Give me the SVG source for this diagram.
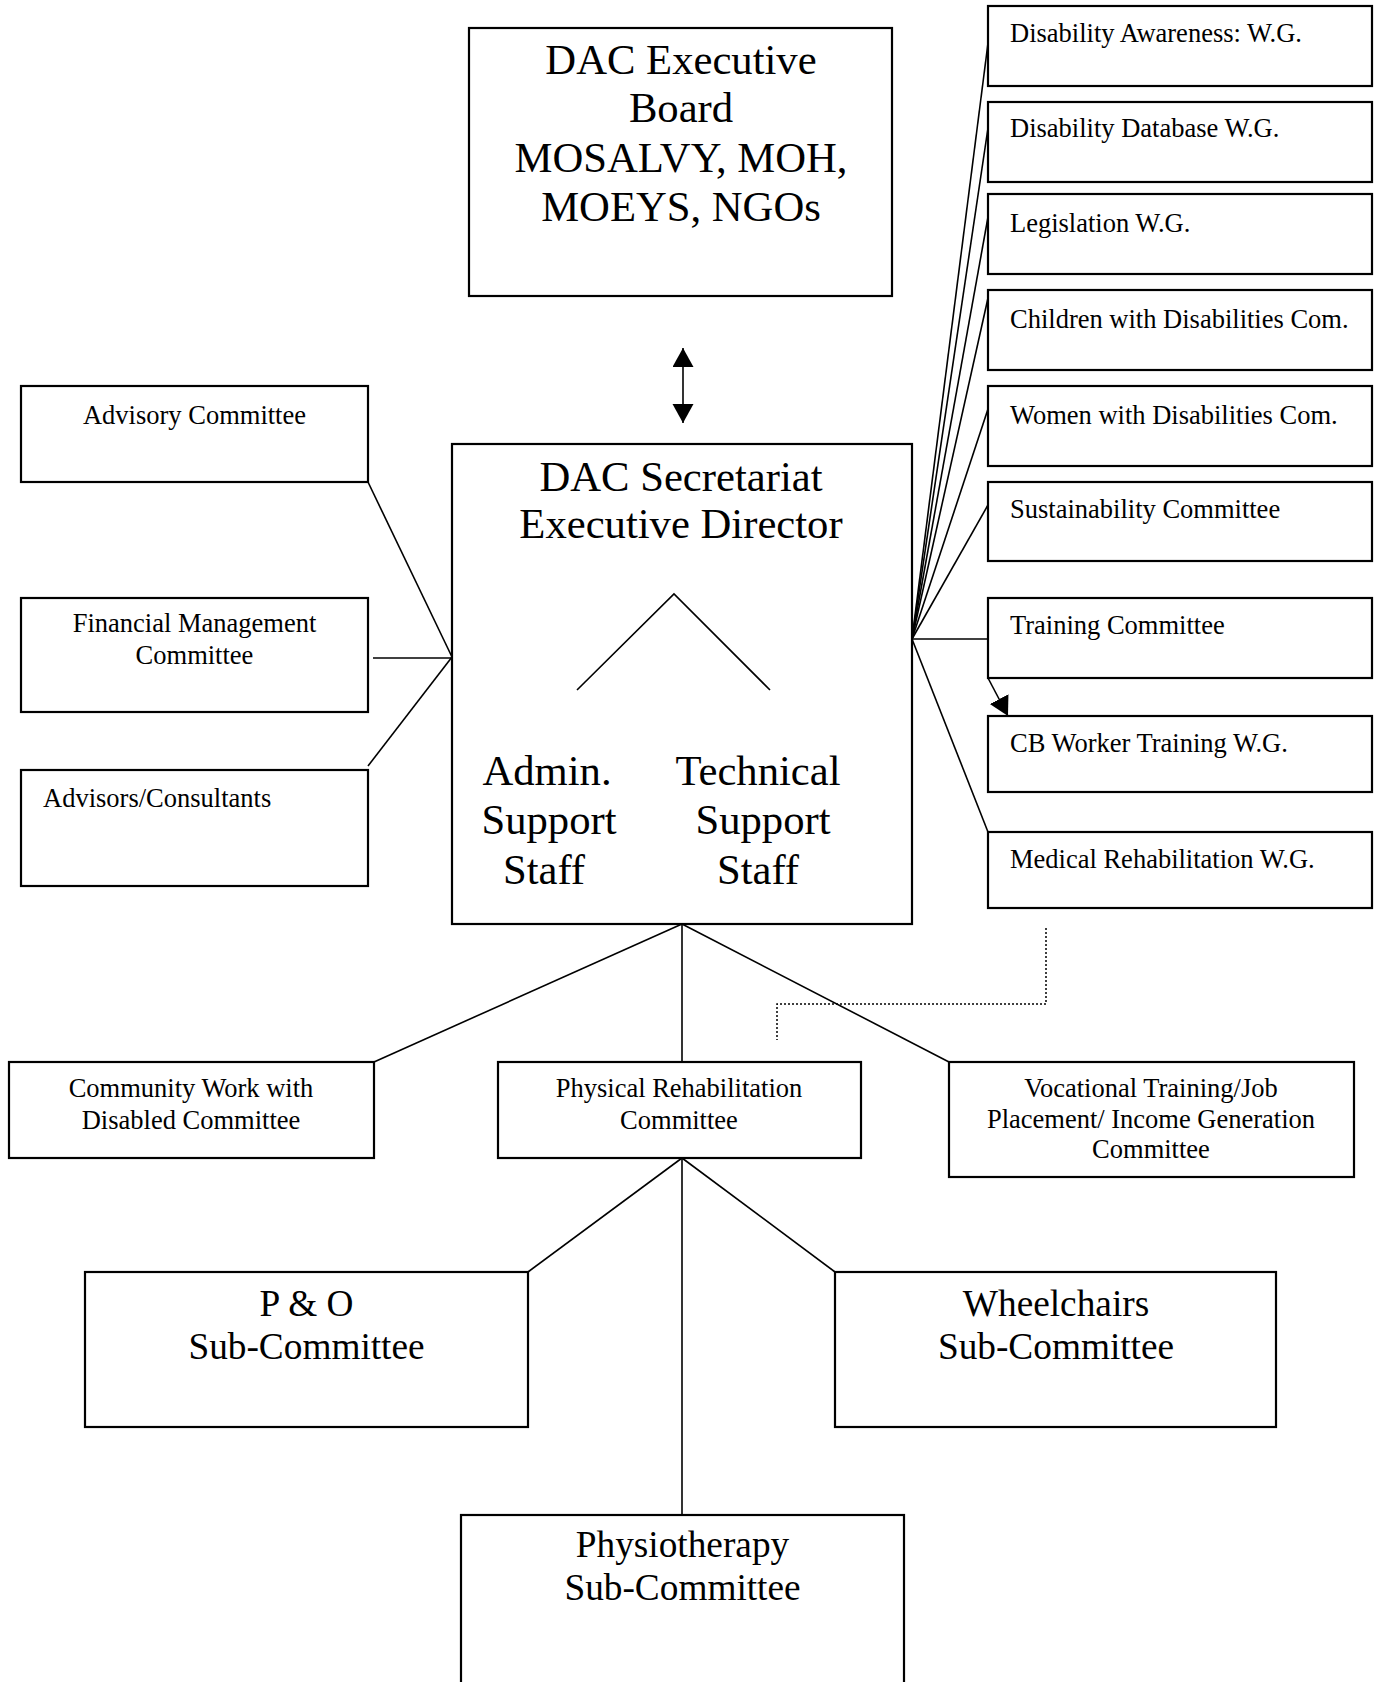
<svg xmlns="http://www.w3.org/2000/svg" width="1381" height="1682" viewBox="0 0 1381 1682">
<style>
  .box { fill: #ffffff; stroke: #000000; stroke-width: 2.2; }
  .ln { fill: none; stroke: #000000; stroke-width: 1.6; }
  .dot { fill: none; stroke: #000000; stroke-width: 1.5; stroke-dasharray: 2 2; }
  .big { font-family: "Liberation Serif", "Times New Roman", serif; font-size: 42.67px; fill: #000000; text-anchor: middle; }
  .mid { font-family: "Liberation Serif", "Times New Roman", serif; font-size: 37.3px; fill: #000000; text-anchor: middle; }
  .sm { font-family: "Liberation Serif", "Times New Roman", serif; font-size: 26.5px; fill: #000000; text-anchor: middle; }
  .sml { font-family: "Liberation Serif", "Times New Roman", serif; font-size: 26.5px; fill: #000000; text-anchor: start; }
</style>
<defs>
  <marker id="arr" markerUnits="userSpaceOnUse" markerWidth="20" markerHeight="22" refX="19" refY="10.5" orient="auto-start-reverse">
    <path d="M0,0 L19,10.5 L0,21 Z" fill="#000000"/>
  </marker>
</defs>
<rect width="1381" height="1682" fill="#ffffff"/>

<g id="connectors">
  <line class="ln" x1="683" y1="348" x2="683" y2="423" marker-start="url(#arr)" marker-end="url(#arr)"/>
  <line class="ln" x1="368" y1="482" x2="452" y2="657"/>
  <line class="ln" x1="373" y1="658" x2="452" y2="658"/>
  <line class="ln" x1="368" y1="766" x2="452" y2="657"/>
  <line class="ln" x1="912" y1="639" x2="988" y2="43"/>
  <line class="ln" x1="912" y1="639" x2="988" y2="128"/>
  <line class="ln" x1="912" y1="639" x2="988" y2="217"/>
  <line class="ln" x1="912" y1="639" x2="988" y2="298"/>
  <line class="ln" x1="912" y1="639" x2="988" y2="409"/>
  <line class="ln" x1="912" y1="639" x2="988" y2="505"/>
  <line class="ln" x1="912" y1="639" x2="988" y2="639"/>
  <line class="ln" x1="912" y1="639" x2="988" y2="832"/>
  <line class="ln" x1="988" y1="678" x2="1008" y2="716" marker-end="url(#arr)"/>
  <line class="ln" x1="682" y1="924" x2="374" y2="1062"/>
  <line class="ln" x1="682" y1="924" x2="682" y2="1062"/>
  <line class="ln" x1="682" y1="924" x2="949" y2="1062"/>
  <line class="ln" x1="682" y1="1158" x2="528" y2="1272"/>
  <line class="ln" x1="682" y1="1158" x2="682" y2="1515"/>
  <line class="ln" x1="682" y1="1158" x2="835" y2="1272"/>
  <polyline class="dot" points="1046,928 1046,1004 777,1004 777,1040"/>
</g>

<g id="exec-board">
  <rect class="box" x="469" y="28" width="423" height="268"/>
  <text class="big" x="681" y="74">DAC Executive</text>
  <text class="big" x="681" y="122">Board</text>
  <text class="big" x="681" y="172">MOSALVY, MOH,</text>
  <text class="big" x="681" y="221">MOEYS, NGOs</text>
</g>

<g id="secretariat">
  <rect class="box" x="452" y="444" width="460" height="480"/>
  <text class="big" x="681" y="491">DAC Secretariat</text>
  <text class="big" x="681" y="538">Executive Director</text>
  <polyline class="ln" points="577,690 674,594 770,690"/>
  <text class="big" x="547" y="785">Admin.</text>
  <text class="big" x="549" y="834">Support</text>
  <text class="big" x="544" y="884">Staff</text>
  <text class="big" x="758" y="785">Technical</text>
  <text class="big" x="763" y="834">Support</text>
  <text class="big" x="758" y="884">Staff</text>
</g>

<g id="advisory">
  <rect class="box" x="21" y="386" width="347" height="96"/>
  <text class="sm" x="194.5" y="424">Advisory Committee</text>
</g>
<g id="financial">
  <rect class="box" x="21" y="598" width="347" height="114"/>
  <text class="sm" x="194.5" y="632">Financial Management</text>
  <text class="sm" x="194.5" y="664">Committee</text>
</g>
<g id="advisors">
  <rect class="box" x="21" y="770" width="347" height="116"/>
  <text class="sml" x="43" y="807">Advisors/Consultants</text>
</g>

<g id="awareness">
  <rect class="box" x="988" y="6" width="384" height="80"/>
  <text class="sml" x="1010" y="42">Disability Awareness: W.G.</text>
</g>
<g id="database">
  <rect class="box" x="988" y="102" width="384" height="80"/>
  <text class="sml" x="1010" y="137">Disability Database W.G.</text>
</g>
<g id="legislation">
  <rect class="box" x="988" y="194" width="384" height="80"/>
  <text class="sml" x="1010" y="232">Legislation W.G.</text>
</g>
<g id="children">
  <rect class="box" x="988" y="290" width="384" height="80"/>
  <text class="sml" x="1010" y="328">Children with Disabilities Com.</text>
</g>
<g id="women">
  <rect class="box" x="988" y="386" width="384" height="80"/>
  <text class="sml" x="1010" y="424">Women with Disabilities Com.</text>
</g>
<g id="sustainability">
  <rect class="box" x="988" y="482" width="384" height="79"/>
  <text class="sml" x="1010" y="518">Sustainability Committee</text>
</g>
<g id="training">
  <rect class="box" x="988" y="598" width="384" height="80"/>
  <text class="sml" x="1010" y="634">Training Committee</text>
</g>
<g id="cb-worker">
  <rect class="box" x="988" y="716" width="384" height="76"/>
  <text class="sml" x="1010" y="752">CB Worker Training W.G.</text>
</g>
<g id="medical">
  <rect class="box" x="988" y="832" width="384" height="76"/>
  <text class="sml" x="1010" y="868">Medical Rehabilitation W.G.</text>
</g>

<g id="community">
  <rect class="box" x="9" y="1062" width="365" height="96"/>
  <text class="sm" x="191" y="1097">Community Work with</text>
  <text class="sm" x="191" y="1129">Disabled Committee</text>
</g>
<g id="physical">
  <rect class="box" x="498" y="1062" width="363" height="96"/>
  <text class="sm" x="679" y="1097">Physical Rehabilitation</text>
  <text class="sm" x="679" y="1129">Committee</text>
</g>
<g id="vocational">
  <rect class="box" x="949" y="1062" width="405" height="115"/>
  <text class="sm" x="1151" y="1097">Vocational Training/Job</text>
  <text class="sm" x="1151" y="1128">Placement/ Income Generation</text>
  <text class="sm" x="1151" y="1158">Committee</text>
</g>

<g id="p-and-o">
  <rect class="box" x="85" y="1272" width="443" height="155"/>
  <text class="mid" x="306.5" y="1316">P &amp; O</text>
  <text class="mid" x="306.5" y="1359">Sub-Committee</text>
</g>
<g id="wheelchairs">
  <rect class="box" x="835" y="1272" width="441" height="155"/>
  <text class="mid" x="1056" y="1316">Wheelchairs</text>
  <text class="mid" x="1056" y="1359">Sub-Committee</text>
</g>
<g id="physiotherapy">
  <rect class="box" x="461" y="1515" width="443" height="190"/>
  <text class="mid" x="682.5" y="1557">Physiotherapy</text>
  <text class="mid" x="682.5" y="1600">Sub-Committee</text>
</g>
</svg>
